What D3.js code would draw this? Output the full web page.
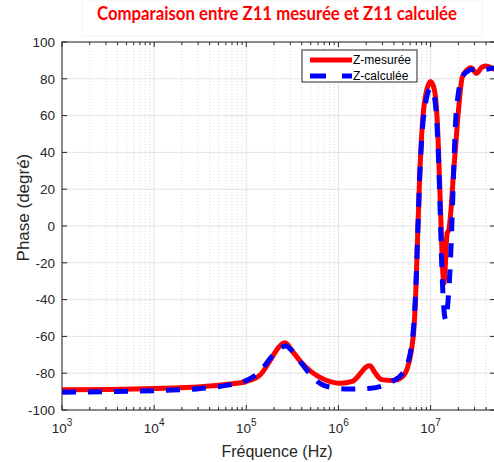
<!DOCTYPE html>
<html>
<head>
<meta charset="utf-8">
<script src="https://cdn.jsdelivr.net/npm/d3@7"></script>
<style>
  body { margin: 0; background: #fff; }
  svg { display: block; font-family: 'Liberation Sans', Arial, sans-serif; }
</style>
</head>
<body>
<div id="chart"></div>
<script>
// measured phase (Z-mesurée)
const freqMes = [1.0e3, 3.2e3, 1.0e4, 3.2e4, 6.3e4, 1.0e5, 1.41e5, 1.82e5, 2.24e5, 2.63e5,
  3.16e5, 3.89e5, 5.01e5, 7.24e5, 1.05e6, 1.41e6, 1.74e6, 1.95e6, 2.19e6, 2.51e6, 2.95e6,
  3.98e6, 4.79e6, 5.62e6, 6.17e6, 6.61e6, 6.92e6, 7.24e6, 7.59e6, 8.13e6, 8.91e6, 1.0e7,
  1.10e7, 1.20e7, 1.26e7, 1.32e7, 1.36e7, 1.40e7, 1.45e7, 1.51e7, 1.58e7, 1.66e7, 1.78e7,
  1.86e7, 2.0e7, 2.21e7, 2.51e7, 2.75e7, 3.16e7, 3.55e7, 3.98e7, 5.0e7]
const phaseMes = [-89, -88.8, -88.3, -87.3, -86, -84.5, -81, -73, -66, -63.5,
  -68, -73.7, -79, -83.7, -85.5, -84.5, -80, -77, -76, -80, -83.5,
  -84, -82.5, -77, -68, -55, -35, -5, 25, 55, 72, 78.5,
  74, 50, 20, -10, -26, -31, -20, -4, -2, 8, 30,
  42, 62, 81, 85, 86, 83, 86, 87, 85]

// calculated phase (Z-calculée)
const freqCal = [1.0e3, 3.2e3, 1.0e4, 3.2e4, 6.3e4, 1.0e5, 1.41e5, 1.82e5, 2.24e5, 2.69e5,
  3.16e5, 3.89e5, 5.01e5, 6.31e5, 7.94e5, 1.26e6, 2.24e6, 3.16e6, 3.98e6, 4.79e6, 5.62e6,
  6.17e6, 6.61e6, 6.92e6, 7.24e6, 7.59e6, 8.13e6, 8.91e6, 1.0e7, 1.10e7, 1.20e7, 1.26e7,
  1.32e7, 1.38e7, 1.46e7, 1.55e7, 1.62e7, 1.70e7, 1.78e7, 1.86e7, 2.0e7, 2.21e7, 2.51e7,
  2.82e7, 3.55e7, 5.0e7]
const phaseCal = [-90.3, -90, -89.5, -88.3, -86.5, -84, -79, -72, -67, -65.2,
  -68, -74, -81, -85.5, -87.5, -88.6, -88.2, -86.5, -84, -81, -75,
  -66, -52, -33, -5, 25, 52, 68, 74.8, 70, 45, 15,
  -20, -42, -51, -40, -25, 0, 30, 55, 72, 81, 84,
  85, 85, 86]

const xTicks = [1e3, 1e4, 1e5, 1e6, 1e7]
const yTicks = [-100, -80, -60, -40, -20, 0, 20, 40, 60, 80, 100]
const seriesNames = ['Z-mesurée', 'Z-calculée']

const W = 494, H = 462
const margin = { top: 42, right: -1, bottom: 52, left: 62 }
const width = W - margin.left - margin.right
const height = H - margin.top - margin.bottom

const svg = d3.select('#chart').append('svg')
  .attr('width', W).attr('height', H)

// faint box behind the title, as in the source figure
svg.append('rect').attr('x', 82).attr('y', 0).attr('width', 400).attr('height', 36)
  .attr('fill', 'none').attr('stroke', '#f2f2f2')

svg.append('text')
  .attr('x', 277).attr('y', 20)
  .attr('text-anchor', 'middle')
  .attr('fill', '#ff0000')
  .attr('font-family', 'Lato, "Open Sans", sans-serif')
  .attr('font-weight', 'bold')
  .attr('font-size', 18)
  .attr('textLength', 360)
  .attr('lengthAdjust', 'spacingAndGlyphs')
  .text('Comparaison entre Z11 mesurée et Z11 calculée')

const g = svg.append('g')
  .attr('transform', 'translate(' + margin.left + ',' + margin.top + ')')

const x = d3.scaleLog().domain([1e3, 5e7]).range([0, width])
const y = d3.scaleLinear().domain([-100, 100]).range([height, 0])

// minor grid (log subdivisions)
const minor = []
for (let dec = 1e3; dec < 5e7; dec *= 10) {
  for (let k = 2; k <= 9; k++) if (dec * k <= 5e7) minor.push(dec * k)
}
g.selectAll('.minor-grid').data(minor).enter().append('line')
  .attr('class', 'minor-grid')
  .attr('x1', d => x(d)).attr('x2', d => x(d))
  .attr('y1', 0).attr('y2', height)
  .attr('stroke', '#d9d9d9').attr('stroke-width', 1)
  .attr('stroke-dasharray', '1,2')

g.selectAll('.xgrid').data(xTicks).enter().append('line')
  .attr('class', 'xgrid')
  .attr('x1', d => x(d)).attr('x2', d => x(d))
  .attr('y1', 0).attr('y2', height)
  .attr('stroke', '#e3e3e3')

g.selectAll('.ygrid').data(yTicks).enter().append('line')
  .attr('class', 'ygrid')
  .attr('x1', 0).attr('x2', width)
  .attr('y1', d => y(d)).attr('y2', d => y(d))
  .attr('stroke', '#e3e3e3')

// ticks (inward, like matlab)
const axisColor = '#262626'
const tickG = g.append('g').attr('stroke', axisColor).attr('stroke-width', 1)
xTicks.forEach(t => {
  tickG.append('line').attr('x1', x(t)).attr('x2', x(t)).attr('y1', height).attr('y2', height - 5)
  tickG.append('line').attr('x1', x(t)).attr('x2', x(t)).attr('y1', 0).attr('y2', 5)
})
minor.forEach(t => {
  tickG.append('line').attr('x1', x(t)).attr('x2', x(t)).attr('y1', height).attr('y2', height - 3)
  tickG.append('line').attr('x1', x(t)).attr('x2', x(t)).attr('y1', 0).attr('y2', 3)
})
yTicks.forEach(t => {
  tickG.append('line').attr('x1', 0).attr('x2', 5).attr('y1', y(t)).attr('y2', y(t))
  tickG.append('line').attr('x1', width).attr('x2', width - 5).attr('y1', y(t)).attr('y2', y(t))
})

// lines
const line = d3.line().curve(d3.curveMonotoneX)
const mes = freqMes.map((f, i) => [x(f), y(phaseMes[i])])
const cal = freqCal.map((f, i) => [x(f), y(phaseCal[i])])

g.append('path').datum(mes)
  .attr('d', line)
  .attr('fill', 'none')
  .attr('stroke', '#ff0000')
  .attr('stroke-width', 5)
  .attr('stroke-linejoin', 'round')

g.append('path').datum(cal)
  .attr('d', line)
  .attr('fill', 'none')
  .attr('stroke', '#0000ff')
  .attr('stroke-width', 5)
  .attr('stroke-dasharray', '14,12')

// axes box
g.append('rect').attr('x', 0).attr('y', 0).attr('width', width).attr('height', height)
  .attr('fill', 'none').attr('stroke', axisColor)

// y tick labels
g.selectAll('.ylab').data(yTicks).enter().append('text')
  .attr('class', 'ylab')
  .attr('x', -7).attr('y', d => y(d))
  .attr('dy', '0.35em')
  .attr('text-anchor', 'end')
  .attr('font-size', 13.5)
  .attr('fill', axisColor)
  .text(d => d)

// x tick labels 10^n
const xl = g.selectAll('.xlab').data(xTicks).enter().append('text')
  .attr('class', 'xlab')
  .attr('x', d => x(d)).attr('y', height + 23)
  .attr('text-anchor', 'middle')
  .attr('font-size', 13.5)
  .attr('fill', axisColor)
xl.append('tspan').text('10')
xl.append('tspan').attr('dy', -7).attr('font-size', 10).text(d => Math.round(Math.log10(d)))

// axis labels
svg.append('text')
  .attr('x', 277).attr('y', 457)
  .attr('text-anchor', 'middle')
  .attr('font-size', 16)
  .attr('fill', axisColor)
  .text('Fréquence (Hz)')

svg.append('text')
  .attr('transform', 'translate(29,' + (margin.top + y(10)) + ') rotate(-90)')
  .attr('text-anchor', 'middle')
  .attr('font-size', 17)
  .attr('fill', axisColor)
  .text('Phase (degré)')

// legend
const leg = svg.append('g').attr('transform', 'translate(302,50)')
leg.append('rect').attr('width', 115).attr('height', 32)
  .attr('fill', '#fff').attr('stroke', axisColor)
const legColors = ['#ff0000', '#0000ff']
seriesNames.forEach((name, i) => {
  const ly = 10 + i * 16
  leg.append('line').attr('x1', 8).attr('x2', 50).attr('y1', ly).attr('y2', ly)
    .attr('stroke', legColors[i]).attr('stroke-width', 5)
    .attr('stroke-dasharray', i === 1 ? '16,16' : null)
  leg.append('text').attr('x', 51).attr('y', ly).attr('dy', '0.35em')
    .attr('font-size', 12).attr('fill', '#000').text(name)
})
</script>
</body>
</html>
